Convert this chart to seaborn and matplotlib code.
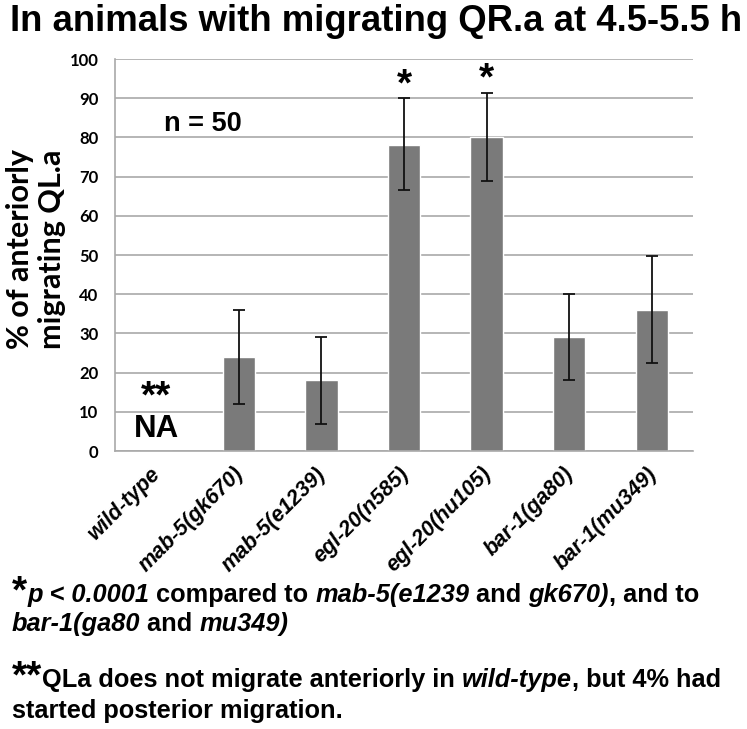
import numpy as np
import pandas as pd
import matplotlib
matplotlib.use('Agg')
import matplotlib.pyplot as plt
import matplotlib.transforms as mtransforms
import seaborn as sns

# values
strains = ['wild-type', 'mab-5(gk670)', 'mab-5(e1239)', 'egl-20(n585)',
           'egl-20(hu105)', 'bar-1(ga80)', 'bar-1(mu349)']
percent = [0, 24, 18, 78, 80, 29, 36]
err_low = [np.nan, 12, 7, 66.5, 69, 18, 22.5]
err_high = [np.nan, 36, 29, 90, 91.3, 40, 49.7]
yticks = [0, 10, 20, 30, 40, 50, 60, 70, 80, 90, 100]

df = pd.DataFrame({'strain': strains, 'pct': percent,
                   'lo': err_low, 'hi': err_high})

sns.set_style('white')
plt.rcParams['font.family'] = ['Liberation Sans', 'DejaVu Sans']
plt.rcParams['text.color'] = 'black'
plt.rcParams['xtick.labelcolor'] = 'black'
plt.rcParams['ytick.labelcolor'] = 'black'

W, H = 747, 729
fig = plt.figure(figsize=(W / 100, H / 100), dpi=100)
ax = fig.add_axes([115 / W, 1 - 451 / H, 578 / W, 392 / H])

sns.barplot(data=df, x='strain', y='pct', color='#7a7a7a', saturation=1,
            width=0.39, ax=ax)

# error bars
yerr = np.array([df['pct'] - df['lo'], df['hi'] - df['pct']])
ax.errorbar(np.arange(len(df)), df['pct'], yerr=yerr, fmt='none',
            ecolor='#111111', elinewidth=1.3, capsize=4.5, capthick=1.3)

ax.set_ylim(0, 100)
ax.set_xlim(-0.5, len(df) - 0.5)
ax.set_yticks(yticks)
ax.yaxis.grid(True, color='#a9a9a9', lw=1.2)
ax.set_axisbelow(True)
for s in ['top', 'right']:
    ax.spines[s].set_visible(False)
for s in ['left', 'bottom']:
    ax.spines[s].set_color('#a9a9a9')
    ax.spines[s].set_linewidth(1.2)
ax.tick_params(axis='y', length=5, color='#a9a9a9', width=1.2, pad=7,
               labelcolor='black')
ax.tick_params(axis='x', length=0, pad=9, labelcolor='black')
ax.set_xlabel('')
ax.set_ylabel('')
for lab in ax.get_yticklabels():
    lab.set_family(['Lato', 'DejaVu Sans'])
    lab.set_fontweight('bold')
    lab.set_fontsize(12)
ax.set_xticks(range(len(strains)))
ax.set_xticklabels(strains, rotation=45, ha='right', va='top',
                   rotation_mode='default', fontsize=15.5,
                   fontweight='bold', fontstyle='italic')
for lab in ax.get_xticklabels():
    lab.set_transform(lab.get_transform() +
                      mtransforms.ScaledTranslation(9 / 100, 0, fig.dpi_scale_trans))

# annotations inside the plot
ax.text(3, 90.8, '*', ha='center', va='baseline', fontsize=28, fontweight='bold')
ax.text(4, 92.3, '*', ha='center', va='baseline', fontsize=28, fontweight='bold')
ax.text(0.57, 81.6, 'n = 50', ha='center', va='baseline', fontsize=19.5,
        fontweight='bold')
ax.text(0, 11.2, '**', ha='center', va='baseline', fontsize=28, fontweight='bold')
ax.text(0, 3.6, 'NA', ha='center', va='baseline', fontsize=22.5, fontweight='bold')

# title and y label
fig.text(376 / W, 1 - 31 / H, 'In animals with migrating QR.a at 4.5-5.5 h',
         ha='center', va='baseline', fontsize=26.3, fontweight='bold')
fig.text(36 / W, 1 - 249 / H, '% of anteriorly\nmigrating QL.a', rotation=90,
         ha='center', va='center', multialignment='center', fontsize=22,
         fontweight='bold', linespacing=1.2, family=['Lato', 'DejaVu Sans'])

# footnotes, built from pieces of mixed style
renderer = fig.canvas.get_renderer()
px = mtransforms.IdentityTransform()


def text_line(x, y, pieces):
    for s, size, style in pieces:
        t = fig.text(x, H - y, s, transform=px, ha='left', va='baseline',
                     fontsize=size, fontweight='bold', fontstyle=style)
        x = t.get_window_extent(renderer).x1


fs = 18.3
text_line(12, 602, [('*', 28, 'normal'), ('p < 0.0001', fs, 'italic'),
                    (' compared to ', fs, 'normal'), ('mab-5(e1239', fs, 'italic'),
                    (' and ', fs, 'normal'), ('gk670)', fs, 'italic'),
                    (', and to', fs, 'normal')])
text_line(12, 631, [('bar-1(ga80', fs, 'italic'), (' and ', fs, 'normal'),
                    ('mu349)', fs, 'italic')])
text_line(12, 687, [('**', 28, 'normal'),
                    ('QLa does not migrate anteriorly in ', fs, 'normal'),
                    ('wild-type', fs, 'italic'), (', but 4% had', fs, 'normal')])
text_line(12, 718, [('started posterior migration.', fs, 'normal')])

fig.savefig('out.png', dpi=100)
